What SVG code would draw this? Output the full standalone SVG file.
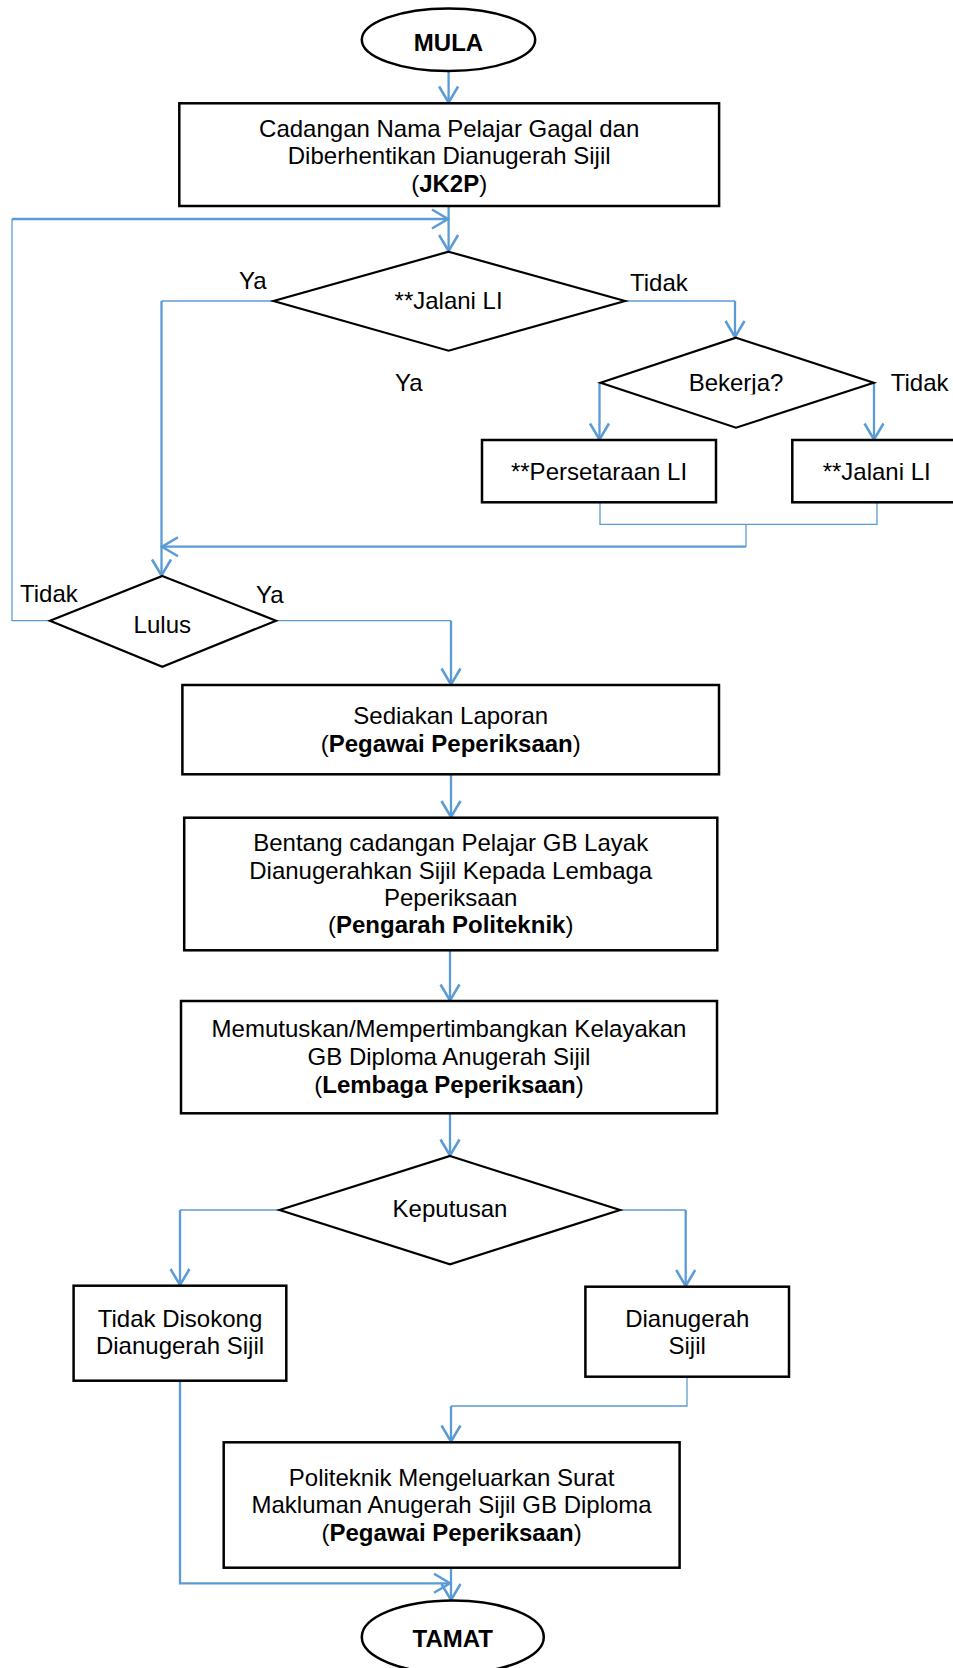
<svg xmlns="http://www.w3.org/2000/svg" width="953" height="1668" viewBox="0 0 953 1668">
<defs>
<style>
.box{fill:#fff;stroke:#000;stroke-width:2.5}
.dia{fill:#fff;stroke:#000;stroke-width:2.2}
.t{font-family:"Liberation Sans",Arial,sans-serif;font-size:24px;fill:#000;text-anchor:middle}
.l{font-family:"Liberation Sans",Arial,sans-serif;font-size:24px;fill:#000}
.b{font-weight:bold}
.c{fill:none;stroke:#5B9BD5;stroke-width:2.3}
.cn{fill:none;stroke:#5B9BD5;stroke-width:1.3}
</style>
<marker id="ah" markerUnits="userSpaceOnUse" markerWidth="40" markerHeight="40" viewBox="-20 -20 40 40" refX="0" refY="0" orient="auto">
<path d="M-16,-9.5 L0,0 L-16,9.5" fill="none" stroke="#5B9BD5" stroke-width="2.5"/>
</marker>
<clipPath id="bkclip"><rect x="640" y="360" width="200" height="34.5"/></clipPath>
</defs>
<rect width="953" height="1668" fill="#fff"/>

<g id="connectors">
<path class="c" d="M448.6,71 V102.5" marker-end="url(#ah)"/>
<path class="c" d="M448.6,206 V251" marker-end="url(#ah)"/>
<path class="cn" d="M50,620.7 H12 V219"/>
<path class="c" d="M12,219 H448" marker-end="url(#ah)"/>
<path class="cn" d="M273.6,301 H161.5"/>
<path class="c" d="M161.5,301 V575.5" marker-end="url(#ah)"/>
<path class="cn" d="M625,301 H735"/>
<path class="c" d="M735,301 V337" marker-end="url(#ah)"/>
<path class="c" d="M599.5,382.7 V439.5" marker-end="url(#ah)"/>
<path class="c" d="M874,382.7 V439.5" marker-end="url(#ah)"/>
<path class="cn" d="M600,502.3 V524.3 H877 V502.3"/>
<path class="cn" d="M746,524.3 V546.7"/>
<path class="c" d="M746,546.7 H162" marker-end="url(#ah)"/>
<path class="cn" d="M276,620.7 H451"/>
<path class="c" d="M451,620.7 V684.5" marker-end="url(#ah)"/>
<path class="c" d="M451,774.3 V817" marker-end="url(#ah)"/>
<path class="c" d="M450,950.3 V1000.5" marker-end="url(#ah)"/>
<path class="c" d="M450,1113.3 V1155.5" marker-end="url(#ah)"/>
<path class="cn" d="M279.6,1210 H180"/>
<path class="c" d="M180,1210 V1285" marker-end="url(#ah)"/>
<path class="cn" d="M620,1210 H685.7"/>
<path class="c" d="M685.7,1210 V1286" marker-end="url(#ah)"/>
<path class="cn" d="M687,1376.7 V1406 H451"/>
<path class="c" d="M451,1406 V1441.5" marker-end="url(#ah)"/>
<path class="c" d="M451,1567.7 V1600" marker-end="url(#ah)"/>
<path class="c" d="M180,1380.7 V1583.3 H450" marker-end="url(#ah)"/>
</g>

<g id="mula">
<ellipse class="box" cx="448.5" cy="39.7" rx="86.7" ry="31.3"/>
<text class="t b" x="448.5" y="50.7">MULA</text>
</g>

<g id="cadangan">
<rect class="box" x="179.3" y="103.3" width="539.8" height="102.7"/>
<text class="t" x="449.2" y="136.7">Cadangan Nama Pelajar Gagal dan</text>
<text class="t" x="449.2" y="164.3">Diberhentikan Dianugerah Sijil</text>
<text class="t" x="449.2" y="191.7">(<tspan class="b">JK2P</tspan>)</text>
</g>

<g id="jalani1">
<polygon class="dia" points="448.6,251.7 625,301 448.6,350.7 273.6,301"/>
<text class="t" x="448.6" y="309">**Jalani LI</text>
</g>

<g id="bekerja">
<polygon class="dia" points="736,337.7 873.7,382.7 736,427.7 600.6,382.7"/>
<text class="t" x="736" y="391" clip-path="url(#bkclip)">Bekerja?</text>
</g>

<g id="persetaraan">
<rect class="box" x="482" y="440" width="234" height="62.3"/>
<text class="t" x="599" y="479.5">**Persetaraan LI</text>
</g>

<g id="jalani2">
<rect class="box" x="792.3" y="440" width="170" height="62.3"/>
<text class="t" x="876.7" y="480">**Jalani LI</text>
</g>

<g id="lulus">
<polygon class="dia" points="162.3,576 276,620.7 162.3,666.7 50,620.7"/>
<text class="t" x="162.3" y="632.7">Lulus</text>
</g>

<g id="sediakan">
<rect class="box" x="182.4" y="685" width="536.6" height="89.3"/>
<text class="t" x="450.7" y="724">Sediakan Laporan</text>
<text class="t" x="450.7" y="751.7">(<tspan class="b">Pegawai Peperiksaan</tspan>)</text>
</g>

<g id="bentang">
<rect class="box" x="184.2" y="817.7" width="533.1" height="132.6"/>
<text class="t" x="450.7" y="850.7">Bentang cadangan Pelajar GB Layak</text>
<text class="t" x="450.7" y="878.7">Dianugerahkan Sijil Kepada Lembaga</text>
<text class="t" x="450.7" y="906">Peperiksaan</text>
<text class="t" x="450.7" y="933.3">(<tspan class="b">Pengarah Politeknik</tspan>)</text>
</g>

<g id="memutuskan">
<rect class="box" x="181" y="1001" width="536" height="112.3"/>
<text class="t" x="449" y="1037.3">Memutuskan/Mempertimbangkan Kelayakan</text>
<text class="t" x="449" y="1065">GB Diploma Anugerah Sijil</text>
<text class="t" x="449" y="1092.7">(<tspan class="b">Lembaga Peperiksaan</tspan>)</text>
</g>

<g id="keputusan">
<polygon class="dia" points="450,1156 620,1210 450,1264.3 279.6,1210"/>
<text class="t" x="450" y="1216.7">Keputusan</text>
</g>

<g id="tidakdisokong">
<rect class="box" x="73.6" y="1285.7" width="212.7" height="95"/>
<text class="t" x="180" y="1327.3">Tidak Disokong</text>
<text class="t" x="180" y="1354">Dianugerah Sijil</text>
</g>

<g id="dianugerah">
<rect class="box" x="585.4" y="1286.7" width="203.6" height="90"/>
<text class="t" x="687.2" y="1326.7">Dianugerah</text>
<text class="t" x="687.2" y="1354">Sijil</text>
</g>

<g id="politeknik">
<rect class="box" x="223.7" y="1442.3" width="455.9" height="125.4"/>
<text class="t" x="451.6" y="1486">Politeknik Mengeluarkan Surat</text>
<text class="t" x="451.6" y="1513.3">Makluman Anugerah Sijil GB Diploma</text>
<text class="t" x="451.6" y="1541">(<tspan class="b">Pegawai Peperiksaan</tspan>)</text>
</g>

<g id="tamat">
<ellipse class="box" cx="452.8" cy="1637" rx="91" ry="36.5"/>
<text class="t b" x="452.8" y="1647.3">TAMAT</text>
</g>

<g id="labels">
<text class="l" x="239" y="289">Ya</text>
<text class="l" x="630" y="290.7">Tidak</text>
<text class="l" x="395" y="390.7">Ya</text>
<text class="l" x="890.7" y="391">Tidak</text>
<text class="l" x="20" y="601.7">Tidak</text>
<text class="l" x="256" y="603.3">Ya</text>
</g>
</svg>
